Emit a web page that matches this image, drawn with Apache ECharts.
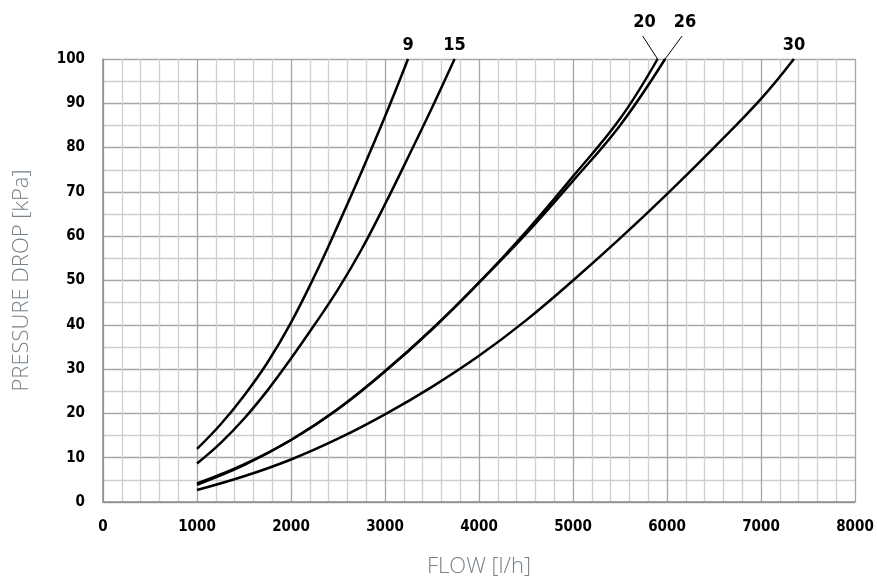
<!DOCTYPE html>
<html>
<head>
<meta charset="utf-8">
<script src="https://cdn.jsdelivr.net/npm/echarts@6/dist/echarts.min.js"></script>
<style>
  html, body { margin: 0; padding: 0; background: #fff; }
  #chart { width: 877px; height: 580px; }
</style>
</head>
<body>
<div id="chart"></div>
<script>
// valve sizes (curve labels)
var curveNames = ['9', '15', '20', '26', '30'];

// flow [l/h] and pressure drop [kPa]
var flow9 = [1000, 1250, 1500, 1750, 2000, 2250, 2500, 2750, 3000, 3245];
var dp9 = [12, 17.5, 24, 31.5, 40.5, 51, 62.5, 74.5, 87, 100];

var flow15 = [1000, 1250, 1500, 1750, 2000, 2250, 2500, 2750, 3000, 3250, 3500, 3740];
var dp15 = [8.7, 13.3, 18.8, 25.2, 32.4, 40, 48, 57, 67.2, 78, 89, 100];

var flow20 = [1000, 1500, 2000, 2500, 3000, 3500, 4000, 4500, 5000, 5500, 5900];
var dp20 = [4.2, 8.5, 14, 21, 29.5, 39, 49.5, 61, 73.5, 86.5, 100];

var flow26 = [1000, 1500, 2000, 2500, 3000, 3500, 4000, 4500, 5000, 5500, 5980];
var dp26 = [3.9, 8.3, 14, 21, 29.5, 39, 49.5, 60.5, 72.5, 85, 100];

var flow30 = [1000, 1500, 2000, 2500, 3000, 3500, 4000, 4500, 5000, 5500, 6000, 6500, 7000, 7350];
var dp30 = [2.7, 5.8, 9.6, 14.3, 19.8, 26, 33, 41, 50, 59.5, 69.5, 80, 91, 100];

var xTicks = [0, 1000, 2000, 3000, 4000, 5000, 6000, 7000, 8000];
var yTicks = [0, 10, 20, 30, 40, 50, 60, 70, 80, 90, 100];

var flows = [flow9, flow15, flow20, flow26, flow30];
var drops = [dp9, dp15, dp20, dp26, dp30];

// label offsets for the two close curves (leader lines drawn below)
var labelShift = { '20': [-13, -23], '26': [20, -23] };
var leaderEnd = { '20': [-15, -23], '26': [17, -23] };

var boldFont = '"DejaVu Sans Condensed", "Liberation Sans Narrow", "DejaVu Sans", sans-serif';

var tickFont = {
    color: '#000',
    fontWeight: 'bold',
    fontSize: 15,
    fontFamily: boldFont,
    formatter: function (v) { return String(v); }
};

var series = curveNames.map(function (name, i) {
    var pts = flows[i].map(function (q, k) {
        return [q, drops[i][k]];
    });
    var last = pts.length - 1;
    var data = pts.map(function (p, k) {
        if (k !== last) return p;
        return {
            value: p,
            label: {
                show: true,
                position: 'top',
                distance: 5,
                formatter: name,
                color: '#000',
                fontWeight: 'bold',
                fontSize: 18,
                fontFamily: boldFont
            }
        };
    });
    var s = {
        name: name,
        type: 'line',
        data: data,
        smooth: 0.4,
        showSymbol: true,
        symbol: 'circle',
        symbolSize: 0,
        clip: false,
        silent: true,
        lineStyle: { color: '#000', width: 2.5 },
        itemStyle: { color: '#000' },
        label: { show: false }
    };
    if (labelShift[name]) {
        s.labelLayout = { dx: labelShift[name][0], dy: labelShift[name][1] };
    }
    return s;
});

var chart = echarts.init(document.getElementById('chart'));
chart.setOption({
    animation: false,
    backgroundColor: '#fff',
    grid: { left: 103, right: 22, top: 59, bottom: 78, outerBoundsMode: 'none', containLabel: false },
    xAxis: {
        type: 'value',
        min: xTicks[0],
        max: xTicks[xTicks.length - 1],
        interval: 1000,
        name: 'FLOW [l/h]',
        nameLocation: 'middle',
        nameGap: 54,
        nameTextStyle: {
            color: '#76818a',
            fontSize: 22,
            fontWeight: 300,
            fontFamily: '"Open Sans", sans-serif'
        },
        axisLine: { show: true, lineStyle: { color: '#8c8c8c', width: 1.5 } },
        axisTick: { show: false },
        axisLabel: Object.assign({ margin: 18 }, tickFont),
        splitLine: { show: true, lineStyle: { color: '#a6a6a6', width: 1.3 } },
        minorTick: { show: false, splitNumber: 5 },
        minorSplitLine: { show: true, lineStyle: { color: '#cfcfcf', width: 1.3 } }
    },
    yAxis: {
        type: 'value',
        min: yTicks[0],
        max: yTicks[yTicks.length - 1],
        interval: 10,
        name: 'PRESSURE DROP [kPa]',
        nameLocation: 'middle',
        nameGap: 70,
        nameTextStyle: {
            color: '#76818a',
            fontSize: 22,
            fontWeight: 300,
            fontFamily: '"Open Sans", sans-serif'
        },
        axisLine: { show: true, lineStyle: { color: '#8c8c8c', width: 1.5 } },
        axisTick: { show: false },
        axisLabel: Object.assign({ margin: 18 }, tickFont),
        splitLine: { show: true, lineStyle: { color: '#a6a6a6', width: 1.3 } },
        minorTick: { show: false, splitNumber: 2 },
        minorSplitLine: { show: true, lineStyle: { color: '#cfcfcf', width: 1.3 } }
    },
    series: series
});

// thin leader lines from the "20" and "26" labels down to their curve ends
var leaders = [];
curveNames.forEach(function (name, i) {
    if (!leaderEnd[name]) return;
    var n = flows[i].length - 1;
    var p = chart.convertToPixel({ gridIndex: 0 }, [flows[i][n], drops[i][n]]);
    leaders.push({
        type: 'line',
        silent: true,
        shape: { x1: p[0], y1: p[1], x2: p[0] + leaderEnd[name][0], y2: p[1] + leaderEnd[name][1] },
        style: { stroke: '#000', lineWidth: 1 }
    });
});
chart.setOption({ graphic: leaders });
</script>
</body>
</html>
